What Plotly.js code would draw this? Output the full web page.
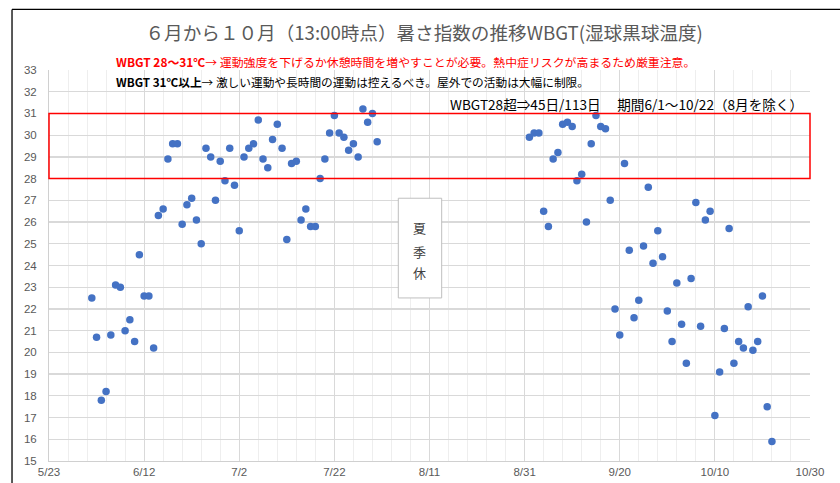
<!DOCTYPE html>
<html>
<head>
<meta charset="utf-8">
<script src="https://cdn.plot.ly/plotly-3.0.1.min.js"></script>
<style>html,body{margin:0;padding:0;background:#fff;}#chart{width:840px;height:483px;}</style>
</head>
<body>
<div id="chart"></div>
<script>
const year = 2024;
const juneDays = [1,2,3,4,5,6,7,8,9,10,11,12,13,14,15,16,17,18,19,20,21,22,23,24,25,26,27,28,29,30];
const juneWBGT = [22.5,20.7,17.8,18.2,20.8,23.1,23.0,21.0,21.5,20.5,24.5,22.6,22.6,20.2,26.3,26.6,28.9,29.6,29.6,25.9,26.8,27.1,26.1,25.0,29.4,29.0,27.0,28.8,27.9,29.4];
const julyDays = [1,2,3,4,5,6,7,8,9,10,11,12,13,14,15,16,17,18,19,20,21,22,23,24,25,26,27,28,29,30,31];
const julyWBGT = [27.7,25.6,29.0,29.4,29.6,30.7,28.9,28.5,29.8,30.5,29.4,25.2,28.7,28.8,26.1,26.6,25.8,25.8,28.0,28.9,30.1,30.9,30.1,29.9,29.3,29.6,29.0,31.2,30.6,31.0,29.7];
const septDays = [1,2,3,4,5,6,7,8,9,10,11,12,13,14,15,16,17,18,19,20,21,22,23,24,25,26,27,28,29,30];
const septWBGT = [29.9,30.1,30.1,26.5,25.8,28.9,29.2,30.5,30.6,30.4,27.9,28.2,26.0,29.6,30.9,30.4,30.3,27.0,22.0,20.8,28.7,24.7,21.6,22.4,24.9,27.6,24.1,25.6,24.4,21.9];
const octDays = [1,2,3,4,5,6,7,8,9,10,11,12,13,14,15,16,17,18,19,20,21,22];
const octWBGT = [20.5,23.2,21.3,19.5,23.4,26.9,21.2,26.1,26.5,17.1,19.1,21.1,25.7,19.5,20.5,20.2,22.1,20.1,20.5,22.6,17.5,15.9];

const cautionLow = 28, cautionHigh = 31;
const xStart = '2024-05-23', xEnd = '2024-10-30';

function pad(n){return (n<10?'0':'')+n;}
function mk(month, days){return days.map(d => year+'-'+pad(month)+'-'+pad(d));}
const xs = [].concat(mk(6,juneDays), mk(7,julyDays), mk(9,septDays), mk(10,octDays));
const ys = [].concat(juneWBGT, julyWBGT, septWBGT, octWBGT);

const DAY = 86400000;
const jp = '"Noto Sans CJK JP", "Noto Sans", sans-serif';
const tickFont = {family: 'Liberation Sans, Arial, sans-serif', size: 11.5, color: '#595959'};

const trace = {
  type: 'scatter', mode: 'markers', x: xs, y: ys,
  marker: {color: '#4472c4', size: 7.5, line: {width: 0}},
  hoverinfo: 'x+y', showlegend: false, cliponaxis: false
};

const layout = {
  width: 840, height: 483,
  margin: {l: 49, r: 30, t: 70, b: 22, pad: 0},
  paper_bgcolor: '#ffffff', plot_bgcolor: '#ffffff',
  showlegend: false,
  title: {text: '６月から１０月（13:00時点）暑さ指数の推移WBGT(湿球黒球温度)',
          font: {family: jp, size: 18.6, color: '#595959'},
          x: 0.505, xanchor: 'center', y: 0.93, yanchor: 'middle'},
  xaxis: {
    type: 'date', range: [xStart, xEnd], autorange: false,
    tick0: xStart, dtick: 20*DAY, tickformat: '%-m/%-d',
    showgrid: true, gridcolor: '#d9d9d9', gridwidth: 1,
    minor: {dtick: 4*DAY, tick0: xStart, showgrid: true, gridcolor: '#eeeeee', gridwidth: 1},
    showline: true, linecolor: '#d0d0d0', linewidth: 1,
    ticks: '', tickfont: tickFont, zeroline: false, automargin: false, fixedrange: true
  },
  yaxis: {
    range: [15, 33], autorange: false, dtick: 1, tick0: 15,
    showgrid: true, gridcolor: '#d9d9d9', gridwidth: 1.3,
    showline: true, linecolor: '#d0d0d0', linewidth: 1,
    ticks: '', ticklabelstandoff: 9, tickfont: tickFont,
    zeroline: false, automargin: false, fixedrange: true
  },
  shapes: [
    {type: 'rect', xref: 'paper', yref: 'y', x0: 0, x1: 1, y0: cautionLow, y1: cautionHigh,
     line: {color: '#ff0000', width: 1.5}, fillcolor: 'rgba(0,0,0,0)', layer: 'above'},
    {type: 'rect', xref: 'paper', yref: 'paper', x0: 0.459, x1: 0.516, y0: 0.417, y1: 0.672,
     line: {color: '#bfbfbf', width: 1}, fillcolor: '#ffffff', layer: 'above'},
    {type: 'line', xref: 'paper', yref: 'paper', x0: -0.0486, x1: 1.06, y0: 1.155, y1: 1.155,
     line: {color: '#000000', width: 1.3}},
    {type: 'line', xref: 'paper', yref: 'paper', x0: -0.0486, x1: -0.0486, y0: 1.155, y1: -0.1,
     line: {color: '#000000', width: 1.3}}
  ],
  annotations: [
    {xref: 'paper', yref: 'paper', x: 0.0855, y: 1.022, xanchor: 'left', yanchor: 'middle', showarrow: false,
     text: '<b>WBGT 28～31℃</b>→ 運動強度を下げるか休憩時間を増やすことが必要。熱中症リスクが高まるため厳重注意。',
     font: {family: jp, size: 11.9, color: '#ff0000'}},
    {xref: 'paper', yref: 'paper', x: 0.0855, y: 0.971, xanchor: 'left', yanchor: 'middle', showarrow: false,
     text: '<b>WBGT 31℃以上</b>→ 激しい運動や長時間の運動は控えるべき。屋外での活動は大幅に制限。',
     font: {family: jp, size: 11.7, color: '#000000'}},
    {xref: 'paper', yref: 'paper', x: 0.524, y: 0.914, xanchor: 'left', yanchor: 'middle', showarrow: false,
     text: 'WBGT28超⇒45日/113日　 期間6/1～10/22（8月を除く）',
     font: {family: jp, size: 13.6, color: '#000000'}},
    {xref: 'paper', yref: 'paper', x: 0.4875, y: 0.598, xanchor: 'center', yanchor: 'middle', showarrow: false,
     text: '夏', font: {family: jp, size: 13, color: '#404040'}},
    {xref: 'paper', yref: 'paper', x: 0.4875, y: 0.537, xanchor: 'center', yanchor: 'middle', showarrow: false,
     text: '季', font: {family: jp, size: 13, color: '#404040'}},
    {xref: 'paper', yref: 'paper', x: 0.4875, y: 0.481, xanchor: 'center', yanchor: 'middle', showarrow: false,
     text: '休', font: {family: jp, size: 13, color: '#404040'}}
  ]
};

Plotly.newPlot('chart', [trace], layout, {displayModeBar: false, staticPlot: true});
</script>
</body>
</html>
